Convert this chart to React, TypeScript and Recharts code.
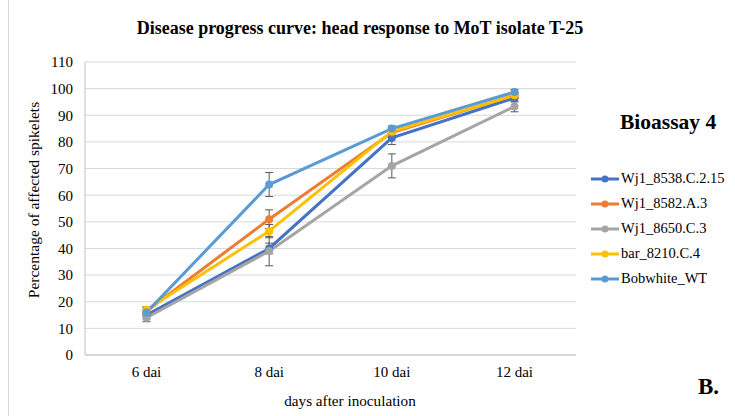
import {
  LineChart,
  Line,
  XAxis,
  YAxis,
  CartesianGrid,
  ErrorBar,
} from 'recharts';

const categories = ['6 dai', '8 dai', '10 dai', '12 dai'];

const wj8538 = [15, 40, 81.5, 96.5];
const wj8538Err = [1.5, 2, 2.5, 1.5];
const wj8582 = [16.5, 51, 83.5, 97.5];
const wj8582Err = [1.5, 3.5, 1.5, 1];
const wj8650 = [14, 39, 71, 93.3];
const wj8650Err = [1.5, 5.5, 4.5, 2];
const bar8210 = [17, 46.5, 84, 97.5];
const bar8210Err = [1, 2.5, 1.5, 1];
const bobwhite = [16, 64, 85, 98.7];
const bobwhiteErr = [1.5, 4.5, 1, 1];

const yTicks = [0, 10, 20, 30, 40, 50, 60, 70, 80, 90, 100, 110];

const SERIES = [
  { key: 'wj8538', label: 'Wj1_8538.C.2.15', color: '#4472C4' },
  { key: 'wj8582', label: 'Wj1_8582.A.3', color: '#ED7D31' },
  { key: 'wj8650', label: 'Wj1_8650.C.3', color: '#A5A5A5' },
  { key: 'bar8210', label: 'bar_8210.C.4', color: '#FFC000' },
  { key: 'bobwhite', label: 'Bobwhite_WT', color: '#5B9BD5' },
];

const data = categories.map((name, i) => ({
  name,
  wj8538: wj8538[i],
  wj8538Err: wj8538Err[i],
  wj8582: wj8582[i],
  wj8582Err: wj8582Err[i],
  wj8650: wj8650[i],
  wj8650Err: wj8650Err[i],
  bar8210: bar8210[i],
  bar8210Err: bar8210Err[i],
  bobwhite: bobwhite[i],
  bobwhiteErr: bobwhiteErr[i],
}));

const FONT = '"Liberation Serif", "Times New Roman", serif';

function LegendBox() {
  return (
    <div style={{ fontFamily: FONT, fontSize: 14.5, color: '#000' }}>
      {SERIES.map((s) => (
        <div key={s.key} style={{ display: 'flex', alignItems: 'center', height: 25 }}>
          <svg width={30} height={10} style={{ marginRight: 1 }}>
            <line x1={1} y1={5} x2={29} y2={5} stroke={s.color} strokeWidth={3} />
            <circle cx={15} cy={5} r={3.5} fill={s.color} />
          </svg>
          <span>{s.label}</span>
        </div>
      ))}
    </div>
  );
}

const tickStyle = { fill: '#000', fontSize: 15, fontFamily: FONT };

export default function App() {
  return (
    <div
      style={{
        position: 'absolute',
        left: 0,
        top: 0,
        width: 735,
        height: 416,
        background: '#fff',
        fontFamily: FONT,
        color: '#000',
      }}
    >
      <div
        style={{
          position: 'absolute',
          left: 8,
          top: 0,
          width: 1,
          height: 416,
          background: '#d9d9d9',
        }}
      />
      <div
        style={{
          position: 'absolute',
          top: 18,
          left: 60,
          width: 600,
          lineHeight: '20px',
          textAlign: 'center',
          fontWeight: 'bold',
          fontSize: 18,
        }}
      >
        Disease progress curve: head response to MoT isolate T-25
      </div>
      <div
        style={{
          position: 'absolute',
          left: 34,
          top: 200,
          fontSize: 15.5,
          whiteSpace: 'nowrap',
          transform: 'translate(-50%, -50%) rotate(-90deg)',
        }}
      >
        Percentage of affected spikelets
      </div>
      <div
        style={{
          position: 'absolute',
          left: 250,
          width: 200,
          top: 392,
          lineHeight: '18px',
          textAlign: 'center',
          fontSize: 15.2,
        }}
      >
        days after inoculation
      </div>
      <div
        style={{
          position: 'absolute',
          left: 620,
          top: 110,
          lineHeight: '24px',
          fontWeight: 'bold',
          fontSize: 21.5,
        }}
      >
        Bioassay 4
      </div>
      <div
        style={{
          position: 'absolute',
          left: 698,
          top: 374,
          lineHeight: '26px',
          fontWeight: 'bold',
          fontSize: 23,
        }}
      >
        B.
      </div>
      <div style={{ position: 'absolute', left: 590, top: 166, width: 145 }}>
        <LegendBox />
      </div>
      <LineChart
        width={735}
        height={416}
        data={data}
        margin={{ top: 62, right: 159, left: 60, bottom: 31 }}
        style={{ fontFamily: FONT }}
      >
        <CartesianGrid vertical={false} stroke="#d9d9d9" />
        <XAxis
          dataKey="name"
          height={30}
          padding={{ left: 61.5, right: 61.5 }}
          tickLine={false}
          axisLine={{ stroke: '#bfbfbf' }}
          tick={tickStyle}
          tickMargin={5}
        />
        <YAxis
          width={25}
          domain={[0, 110]}
          ticks={yTicks}
          interval={0}
          tickLine={false}
          axisLine={{ stroke: '#bfbfbf' }}
          tick={tickStyle}
          tickMargin={6}
        />
        <YAxis
          yAxisId="right"
          orientation="right"
          width={0}
          domain={[0, 110]}
          tick={false}
          tickLine={false}
          axisLine={{ stroke: '#bfbfbf' }}
        />
        <XAxis
          xAxisId="top"
          orientation="top"
          dataKey="name"
          height={0}
          tick={false}
          tickLine={false}
          axisLine={{ stroke: '#bfbfbf' }}
        />
        {SERIES.map((s) => (
          <Line
            key={s.key}
            type="linear"
            dataKey={s.key}
            name={s.label}
            stroke={s.color}
            strokeWidth={3}
            dot={{ r: 4, fill: s.color, stroke: s.color, strokeWidth: 0 }}
            activeDot={false}
            isAnimationActive={false}
          >
            <ErrorBar
              dataKey={`${s.key}Err`}
              direction="y"
              width={4}
              stroke="#595959"
              strokeWidth={1}
            />
          </Line>
        ))}
      </LineChart>
    </div>
  );
}
